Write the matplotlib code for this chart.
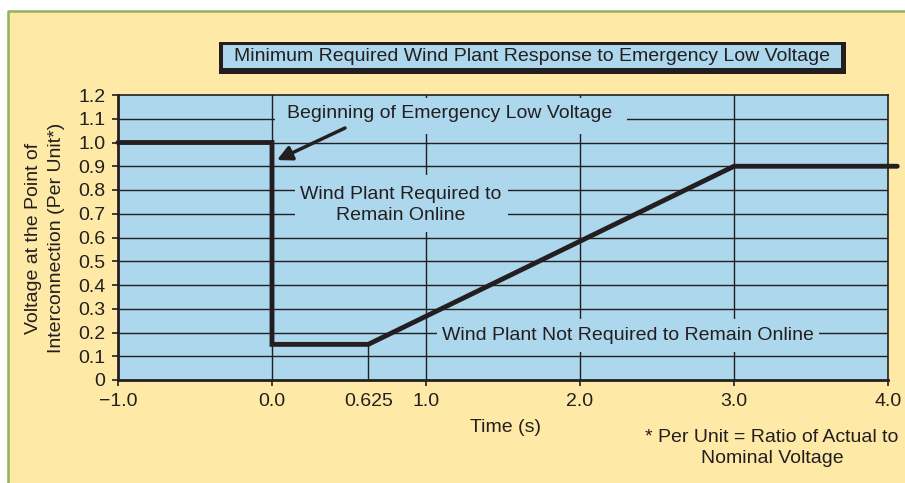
import matplotlib
matplotlib.use("Agg")
import matplotlib.pyplot as plt
from matplotlib.patches import Rectangle
from matplotlib.lines import Line2D

plt.rcParams['font.family'] = ['Liberation Sans', 'DejaVu Sans']

# Data: minimum required voltage ride-through curve
time_s = [-1.0, 0.0, 0.0, 0.625, 3.0, 4.06]
voltage_pu = [1.0, 1.0, 0.15, 0.15, 0.9, 0.9]

x_ticks = [-1.0, 0.0, 1.0, 2.0, 3.0, 4.0]
x_tick_labels = ['\u22121.0', '0.0', '1.0', '2.0', '3.0', '4.0']
y_ticks = [0, 0.1, 0.2, 0.3, 0.4, 0.5, 0.6, 0.7, 0.8, 0.9, 1.0, 1.1, 1.2]
y_tick_labels = ['0'] + ['%.1f' % v for v in y_ticks[1:]]

title = 'Minimum Required Wind Plant Response to Emergency Low Voltage'

# colours
yellow = '#fee9a7'
blue = '#acd7ec'
green = '#8db458'
ink = '#231f20'
fs = 14

W, H = 905, 483
fig = plt.figure(figsize=(W / 100, H / 100), dpi=100)
fig.patch.set_facecolor('white')


def px_rect(x0, y0, x1, y1, **kw):
    # rectangle given in figure pixels, y measured from top
    r = Rectangle((x0 / W, 1 - y1 / H), (x1 - x0) / W, (y1 - y0) / H,
                  transform=fig.transFigure, **kw)
    fig.add_artist(r)
    return r


# page background with green border on top and left
px_rect(9, 12, W + 5, H + 5, facecolor=yellow, edgecolor='none', zorder=0)
fig.add_artist(Line2D([8 / W, 8 / W, 1], [0, 1 - 11 / H, 1 - 11 / H],
                      transform=fig.transFigure, color=green, lw=1.8))

# title box
px_rect(219, 42, 846, 74, facecolor=ink, edgecolor='none', zorder=1)
px_rect(223, 45, 841, 68, facecolor=blue, edgecolor='none', zorder=2)
fig.text(532 / W, 1 - 56.5 / H, title, ha='center', va='center',
         fontsize=fs, color=ink, zorder=3)

ax = fig.add_axes([118 / W, 1 - 380 / H, 770 / W, 285 / H])
ax.set_facecolor(blue)
ax.set_xlim(-1.0, 4.0)
ax.set_ylim(0, 1.2)

# grid
for y in y_ticks[1:-1]:
    ax.axhline(y, color=ink, lw=1.0, zorder=1)
for x in x_ticks[1:-1]:
    ax.axvline(x, color=ink, lw=1.0, zorder=1)
ax.plot([0.625, 0.625], [0.01, 0.15], color=ink, lw=1.0, zorder=1)

# masks behind the labels that interrupt grid lines
masks = [
    (0.019, 1.036, 2.305, 1.187),
    (0.149, 0.623, 1.532, 0.863),
    (1.071, 0.118, 3.552, 0.257),
]
for x0, y0, x1, y1 in masks:
    ax.add_patch(Rectangle((x0, y0), x1 - x0, y1 - y0, facecolor=blue,
                           edgecolor='none', zorder=2))

ax.text(1.156, 1.124, 'Beginning of Emergency Low Voltage', ha='center',
        va='center', fontsize=fs, color=ink, zorder=3)
ax.text(0.838, 0.737, 'Wind Plant Required to\nRemain Online', ha='center',
        va='center', fontsize=fs, color=ink, zorder=3, linespacing=1.25)
ax.text(2.312, 0.189, 'Wind Plant Not Required to Remain Online',
        ha='center', va='center', fontsize=fs, color=ink, zorder=3)

ax.annotate('', xy=(0.032, 0.926), xytext=(0.474, 1.061),
            arrowprops=dict(arrowstyle='-|>', lw=2.5, color=ink,
                            mutation_scale=22, shrinkA=0, shrinkB=0),
            zorder=4)

ax.plot(time_s, voltage_pu, color=ink, lw=3.5, solid_capstyle='round',
        solid_joinstyle='miter', clip_on=False, zorder=5)

# axes styling
for side in ['left', 'bottom']:
    ax.spines[side].set_linewidth(2.0)
for side in ['top', 'right']:
    ax.spines[side].set_linewidth(1.2)
for s in ax.spines.values():
    s.set_color(ink)
    s.set_zorder(6)

ax.set_xticks(x_ticks)
ax.set_xticklabels(x_tick_labels)
ax.set_xticks([0.625], minor=True)
ax.set_xticklabels(['0.625'], minor=True)
ax.set_yticks(y_ticks)
ax.set_yticklabels(y_tick_labels)
ax.tick_params(axis='both', which='major', direction='out', length=4,
               width=1.2, color=ink, labelsize=fs, labelcolor=ink)
ax.tick_params(axis='x', which='major', pad=5)
ax.tick_params(axis='x', which='minor', length=0, pad=9, labelsize=fs,
               labelcolor=ink)
ax.tick_params(axis='y', pad=5)

fig.text(505 / W, 1 - 427 / H, 'Time (s)', ha='center', va='center',
         fontsize=fs, color=ink)
fig.text(45 / W, 1 - 238 / H,
         'Voltage at the Point of\nInterconnection (Per Unit*)',
         ha='center', va='center', rotation=90, fontsize=fs, color=ink,
         linespacing=1.45)
fig.text(772 / W, 1 - 448 / H, '* Per Unit = Ratio of Actual to\nNominal Voltage',
         ha='center', va='center', fontsize=fs, color=ink, linespacing=1.35)

fig.savefig('out.png', dpi=100, facecolor=fig.get_facecolor())
